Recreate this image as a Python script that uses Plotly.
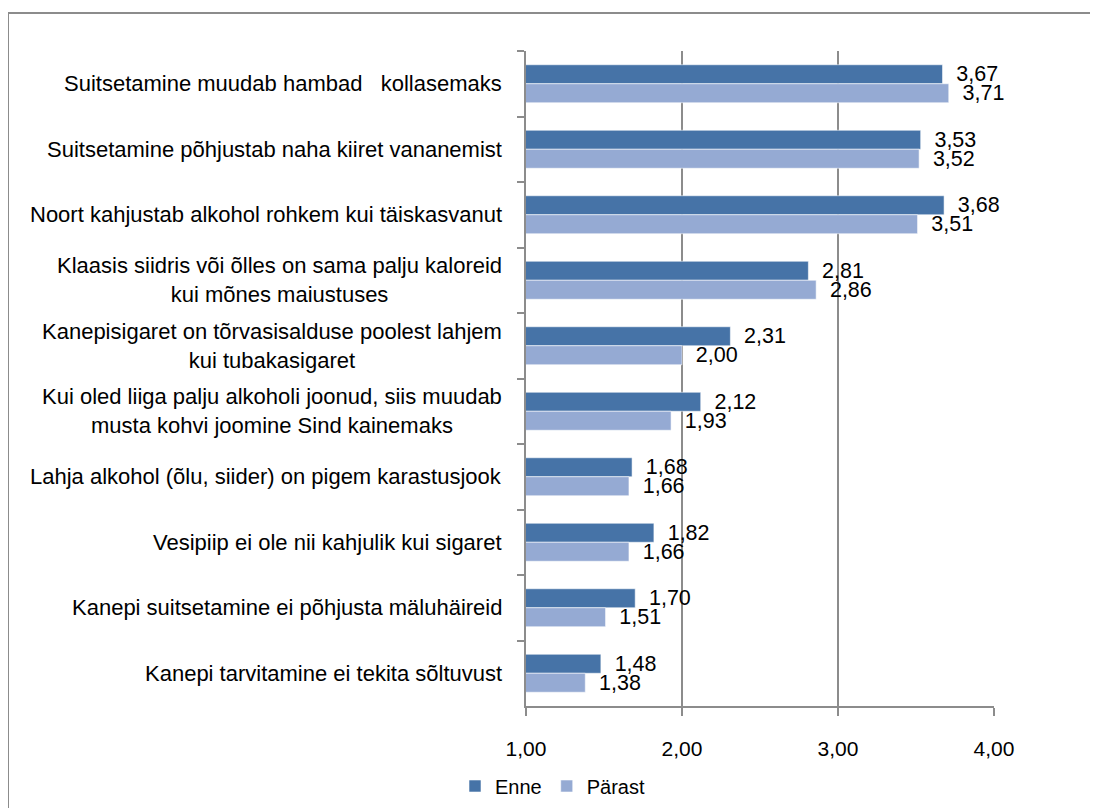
import plotly.graph_objects as go

categories = [
    "Suitsetamine muudab hambad   kollasemaks",
    "Suitsetamine põhjustab naha kiiret vananemist",
    "Noort kahjustab alkohol rohkem kui täiskasvanut",
    "Klaasis siidris või õlles on sama palju kaloreid<br>kui mõnes maiustuses",
    "Kanepisigaret on tõrvasisalduse poolest lahjem<br>kui tubakasigaret",
    "Kui oled liiga palju alkoholi joonud, siis muudab<br>musta kohvi joomine Sind kainemaks",
    "Lahja alkohol (õlu, siider) on pigem karastusjook",
    "Vesipiip ei ole nii kahjulik kui sigaret",
    "Kanepi suitsetamine ei põhjusta mäluhäireid",
    "Kanepi tarvitamine ei tekita sõltuvust",
]
enne = [3.67, 3.53, 3.68, 2.81, 2.31, 2.12, 1.68, 1.82, 1.70, 1.48]
parast = [3.71, 3.52, 3.51, 2.86, 2.00, 1.93, 1.66, 1.66, 1.51, 1.38]
series_names = ["Enne", "Pärast"]
x_ticks = [1, 2, 3, 4]

FONT = "Liberation Sans, Arial, sans-serif"
GRAY = "#8c8c8c"

# page body has an 8px margin; target plot area in page: x 526..994, y 51..706
OFF = 8
W, H = 1098 - OFF, 808 - OFF
L, T = 526 - OFF, 51 - OFF
pw, ph = 468, 655
R, B = W - L - pw, H - T - ph

fig = go.Figure()
for name, vals, col in [(series_names[0], enne, "#4673A7"), (series_names[1], parast, "#95AAD3")]:
    fig.add_trace(go.Bar(
        y=categories, x=vals, name=name, orientation="h",
        marker=dict(color=col, line=dict(color="rgba(255,255,255,0.55)", width=1)),
        texttemplate="\u2002%{x:.2f}", textposition="outside",
        textfont=dict(family=FONT, size=21.5, color="#000"),
        cliponaxis=False,
    ))

for c in categories:
    fig.add_annotation(
        x=0, xref="paper", y=c, yref="y", text=c, showarrow=False,
        xanchor="right", yanchor="middle", align="center", xshift=-22,
        font=dict(family=FONT, size=22, color="#000"),
    )

# outer chart border (page coords: left 8, top 13)
fig.add_shape(type="rect", xref="paper", yref="paper",
              x0=(8 - OFF - L) / pw, x1=(1140 - OFF - L) / pw,
              y0=(T + ph - 850) / ph, y1=(T + ph - (13 - OFF)) / ph,
              line=dict(color=GRAY, width=2), fillcolor="rgba(0,0,0,0)", layer="below")

fig.update_layout(
    width=W, height=H, margin=dict(l=L, r=R, t=T, b=B, autoexpand=False),
    paper_bgcolor="white", plot_bgcolor="white",
    barmode="group", bargap=0.42, bargroupgap=0,
    separators=", ",
    font=dict(family=FONT, size=21, color="#000"),
    showlegend=True,
    legend=dict(orientation="h", xref="container", yref="container",
                x=(455 - OFF) / W, xanchor="left", y=1 - (786 - OFF) / H, yanchor="middle",
                font=dict(family=FONT, size=20), itemwidth=30, traceorder="normal"),
    uniformtext=dict(minsize=20, mode="show"),
)
fig.update_xaxes(
    range=[1, 4], tickvals=x_ticks, tickformat=".2f",
    showgrid=True, gridcolor=GRAY, gridwidth=1.5,
    showline=True, linecolor=GRAY, linewidth=1.5,
    ticks="outside", ticklen=8, tickcolor=GRAY, tickwidth=1.5,
    ticklabelstandoff=15, zeroline=False,
    tickfont=dict(family=FONT, size=21),
)
fig.update_yaxes(
    type="category", autorange="reversed", tickson="boundaries",
    ticks="outside", ticklen=7, tickcolor=GRAY, tickwidth=1.5,
    showline=True, linecolor=GRAY, linewidth=1.5,
    showticklabels=False, showgrid=False,
)

fig.write_html("out.html")
